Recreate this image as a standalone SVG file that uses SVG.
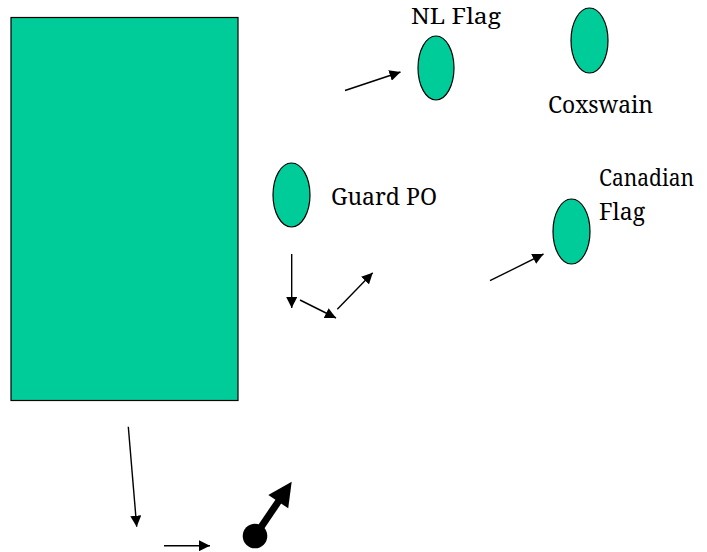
<svg xmlns="http://www.w3.org/2000/svg" width="707" height="552" viewBox="0 0 707 552">
<style>
.shape{fill:#00CC99;stroke:#000;stroke-width:1.2}
.lbl{font-family:'Noto Serif','DejaVu Serif',serif;font-size:24px;fill:#000}
.arr{stroke:#000;stroke-width:1.4;fill:none;marker-end:url(#ah)}
</style>
<defs>
<marker id="ah" markerUnits="userSpaceOnUse" markerWidth="11" markerHeight="11" refX="11" refY="5.5" orient="auto">
<path d="M0,0 L11,5.5 L0,11 z" fill="#000"/>
</marker>
</defs>
<rect width="707" height="552" fill="#fff"/>
<g id="block"><rect class="shape" x="11" y="17.5" width="227" height="383"/></g>
<g id="nl-flag"><ellipse class="shape" cx="436" cy="68" rx="18" ry="32"/><text class="lbl" style="font-size:22px" x="411" y="24" textLength="90" lengthAdjust="spacingAndGlyphs">NL Flag</text></g>
<g id="coxswain"><ellipse class="shape" cx="589.5" cy="40.5" rx="18.5" ry="32.5"/><text class="lbl" x="548" y="113" textLength="105" lengthAdjust="spacingAndGlyphs">Coxswain</text></g>
<g id="guard-po"><ellipse class="shape" cx="291.5" cy="195" rx="18.5" ry="32"/><text class="lbl" x="331" y="205" textLength="106" lengthAdjust="spacingAndGlyphs">Guard PO</text></g>
<g id="canadian-flag"><ellipse class="shape" cx="571.5" cy="231.5" rx="18.5" ry="32.5"/><text class="lbl" style="font-size:23px" x="599" y="186" textLength="95" lengthAdjust="spacingAndGlyphs">Canadian</text><text class="lbl" x="599" y="220" textLength="46" lengthAdjust="spacingAndGlyphs">Flag</text></g>
<g id="marker"><circle cx="255" cy="536" r="12.3" fill="#000"/></g>
<g id="connectors">
<line class="arr" x1="345" y1="90.5" x2="400.5" y2="72"/>
<line class="arr" x1="291.7" y1="254" x2="291.7" y2="308"/>
<line class="arr" x1="300" y1="300" x2="336" y2="318"/>
<line class="arr" x1="337.3" y1="309.3" x2="372.7" y2="272.7"/>
<line class="arr" x1="490" y1="280.7" x2="543.5" y2="254"/>
<line class="arr" x1="128.3" y1="426.7" x2="136.7" y2="526.7"/>
<line class="arr" x1="164" y1="545.7" x2="210" y2="545.7"/>
<line x1="255" y1="536" x2="279" y2="500.6" stroke="#000" stroke-width="7"/>
<polygon points="291.7,481.7 288.2,508.3 268.3,494.9" fill="#000"/>
</g>
</svg>
